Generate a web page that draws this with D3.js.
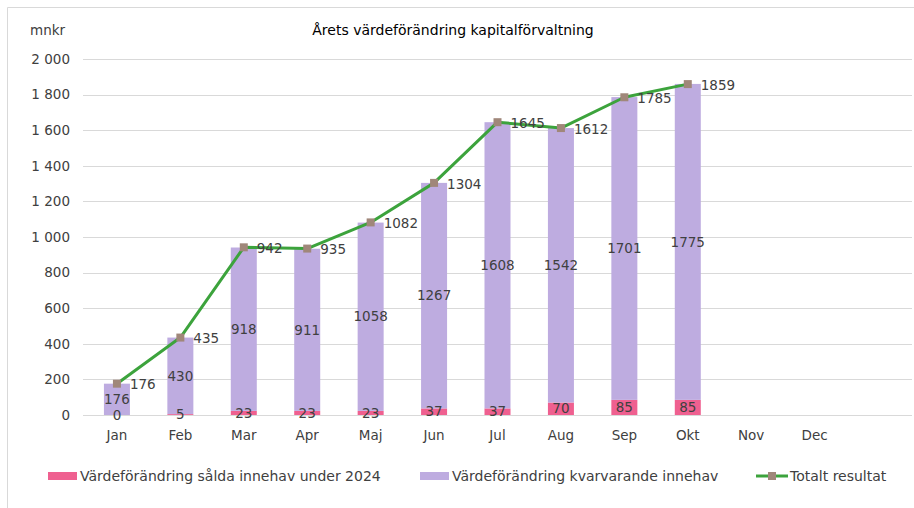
<!DOCTYPE html>
<html>
<head>
<meta charset="utf-8">
<script src="https://cdn.jsdelivr.net/npm/d3@7/dist/d3.min.js"></script>
<style>
  html, body { margin: 0; padding: 0; background: #fff; }
  svg { display: block; }
  text { font-family: "DejaVu Sans", Verdana, sans-serif; fill: #404040; }
</style>
</head>
<body>
<svg id="chart" width="914" height="508"></svg>
<script>
const months = ["Jan","Feb","Mar","Apr","Maj","Jun","Jul","Aug","Sep","Okt","Nov","Dec"];
const salda = [0, 5, 23, 23, 23, 37, 37, 70, 85, 85, null, null];
const kvarvarande = [176, 430, 918, 911, 1058, 1267, 1608, 1542, 1701, 1775, null, null];
const totalt = [176, 435, 942, 935, 1082, 1304, 1645, 1612, 1785, 1859, null, null];
const yTicks = [0, 200, 400, 600, 800, 1000, 1200, 1400, 1600, 1800, 2000];
const seriesNames = ["Värdeförändring sålda innehav under 2024", "Värdeförändring kvarvarande innehav", "Totalt resultat"];
const title = "Årets värdeförändring kapitalförvaltning";
const unit = "mnkr";

const colPink = "#EF6090", colLav = "#BEACE0", colGreen = "#3CA33C", colMarker = "#A0877A";

const svg = d3.select("#chart");
const fmt = v => d3.format(",")(v).replace(/,/g, " ");

// chart border
svg.append("path").attr("d", "M7.5,508 L7.5,7.5 L914,7.5").attr("fill", "none").attr("stroke", "#D9D9D9");

const plotL = 83, plotR = 912, plotT = 59, plotB = 415;
// 13 slots: the last one is blank, as in the original
const x = d3.scaleBand().domain(months.concat([" "])).range([plotL, plotR]).paddingInner(0.59).paddingOuter(0.33);
const y = d3.scaleLinear().domain([0, 2000]).range([plotB, plotT]);

// gridlines
svg.append("g").selectAll("line").data(yTicks).join("line")
  .attr("x1", plotL).attr("x2", plotR)
  .attr("y1", d => Math.round(y(d)) + 0.5).attr("y2", d => Math.round(y(d)) + 0.5)
  .attr("stroke", "#D9D9D9").attr("stroke-width", 1);

// y tick labels
svg.append("g").selectAll("text").data(yTicks).join("text")
  .attr("x", 70).attr("y", d => y(d)).attr("dy", "0.35em")
  .attr("text-anchor", "end").attr("font-size", "13.5px").text(fmt);

// x labels
svg.append("g").selectAll("text").data(months).join("text")
  .attr("x", d => x(d) + x.bandwidth() / 2).attr("y", 435).attr("dy", "0.35em")
  .attr("text-anchor", "middle").attr("font-size", "13.5px").text(d => d);

// bars
const data = months.map((m, i) => ({m, s: salda[i], k: kvarvarande[i], t: totalt[i]})).filter(d => d.s != null);
svg.append("g").selectAll("rect").data(data).join("rect")
  .attr("x", d => x(d.m)).attr("width", x.bandwidth())
  .attr("y", d => y(d.s)).attr("height", d => y(0) - y(d.s)).attr("fill", colPink);
svg.append("g").selectAll("rect").data(data).join("rect")
  .attr("x", d => x(d.m)).attr("width", x.bandwidth())
  .attr("y", d => y(d.s + d.k)).attr("height", d => y(d.s) - y(d.s + d.k)).attr("fill", colLav);

// line
const line = d3.line().x(d => x(d.m) + x.bandwidth() / 2).y(d => y(d.t));
svg.append("path").datum(data).attr("d", line).attr("fill", "none")
  .attr("stroke", colGreen).attr("stroke-width", 3).attr("stroke-linejoin", "round");
svg.append("g").selectAll("rect").data(data).join("rect")
  .attr("x", d => x(d.m) + x.bandwidth() / 2 - 4).attr("y", d => y(d.t) - 4)
  .attr("width", 8).attr("height", 8).attr("fill", colMarker);

// bar labels
svg.append("g").selectAll("text").data(data).join("text")
  .attr("x", d => x(d.m) + x.bandwidth() / 2).attr("y", d => y(d.s / 2)).attr("dy", "0.35em")
  .attr("text-anchor", "middle").attr("font-size", "13.5px").text(d => d.s);
svg.append("g").selectAll("text").data(data).join("text")
  .attr("x", d => x(d.m) + x.bandwidth() / 2).attr("y", d => y(d.s + d.k / 2)).attr("dy", "0.35em")
  .attr("text-anchor", "middle").attr("font-size", "13.5px").text(d => d.k);
// line labels
svg.append("g").selectAll("text").data(data).join("text")
  .attr("x", d => x(d.m) + x.bandwidth() / 2 + 13).attr("y", d => y(d.t) + 1).attr("dy", "0.35em")
  .attr("text-anchor", "start").attr("font-size", "13.5px").text(d => d.t);

// title & unit
svg.append("text").attr("x", 453).attr("y", 30).attr("dy", "0.35em").attr("text-anchor", "middle")
  .attr("font-size", "14px").style("fill", "#000").text(title);
svg.append("text").attr("x", 30).attr("y", 30).attr("dy", "0.35em").attr("font-size", "13.5px").text(unit);

// legend
const lg = svg.append("g");
const ly = 476;
lg.append("rect").attr("x", 48).attr("y", ly - 4).attr("width", 29).attr("height", 8).attr("fill", colPink);
lg.append("text").attr("x", 80).attr("y", ly).attr("dy", "0.35em").attr("font-size", "14px").text(seriesNames[0]);
lg.append("rect").attr("x", 420).attr("y", ly - 4).attr("width", 29).attr("height", 8).attr("fill", colLav);
lg.append("text").attr("x", 452).attr("y", ly).attr("dy", "0.35em").attr("font-size", "14px").text(seriesNames[1]);
lg.append("line").attr("x1", 756).attr("x2", 788).attr("y1", ly).attr("y2", ly).attr("stroke", colGreen).attr("stroke-width", 3);
lg.append("rect").attr("x", 768).attr("y", ly - 4).attr("width", 8).attr("height", 8).attr("fill", colMarker);
lg.append("text").attr("x", 790).attr("y", ly).attr("dy", "0.35em").attr("font-size", "14px").text(seriesNames[2]);
</script>
</body>
</html>
